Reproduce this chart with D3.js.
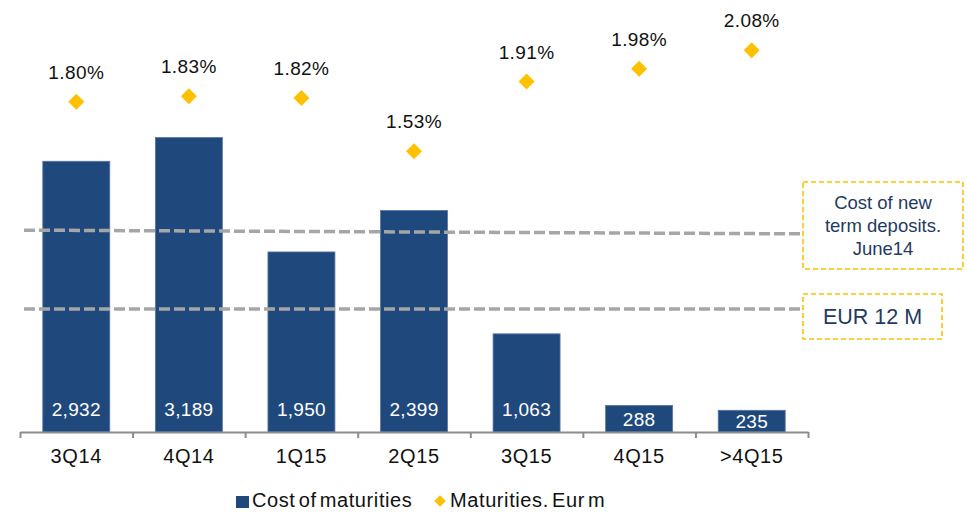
<!DOCTYPE html>
<html>
<head>
<meta charset="utf-8">
<script src="https://cdn.jsdelivr.net/npm/d3@7"></script>
<style>
  body { margin: 0; background: #fff; }
  svg text { font-family: "Liberation Sans", Arial, sans-serif; }
</style>
</head>
<body>
<div id="chart"></div>
<script>
var categories = ['3Q14', '4Q14', '1Q15', '2Q15', '3Q15', '4Q15', '>4Q15'];
var costOfMaturities = [2932, 3189, 1950, 2399, 1063, 288, 235];
var maturityRates = [1.80, 1.83, 1.82, 1.53, 1.91, 1.98, 2.08];
// reference levels on the % scale: [start, end]
var newDepositsCost = [1.10, 1.08];
var eur12m = [0.67, 0.67];
var legendLabels = ['Cost of maturities', 'Maturities. Eur m'];

var width = 967, height = 513;
var barColor = '#1F497D';
var diamondColor = '#FFC000';

var svg = d3.select('#chart').append('svg')
  .attr('width', width)
  .attr('height', height);

var x = d3.scaleBand()
  .domain(categories)
  .range([20, 808])
  .paddingInner(0.405)
  .paddingOuter(0.2025);

var y = d3.scaleLinear()
  .domain([0, 3000])
  .range([432, 155]);

var y2 = d3.scaleLinear()
  .domain([0, 2])
  .range([432, 65]);

// Bars
svg.selectAll('.bar').data(costOfMaturities)
  .join('rect')
  .attr('class', 'bar')
  .attr('x', (d, i) => x(categories[i]))
  .attr('y', (d) => y(d))
  .attr('width', x.bandwidth())
  .attr('height', (d) => y(0) - y(d))
  .attr('fill', barColor)
  .attr('stroke', '#5676a3')
  .attr('stroke-width', 0.8);

// Bar labels
svg.selectAll('.barLabel').data(costOfMaturities)
  .join('text')
  .attr('class', 'barLabel')
  .attr('x', (d, i) => x(categories[i]) + x.bandwidth() / 2)
  .attr('y', (d) => Math.max(409, (y(d) + y(0)) / 2) + 7)
  .attr('text-anchor', 'middle')
  .attr('fill', '#fff')
  .attr('font-size', 19)
  .attr('letter-spacing', 0.3)
  .text((d) => d3.format(',')(d));

// Reference dashed lines
var refLines = [newDepositsCost, eur12m];
svg.selectAll('.refLine').data(refLines)
  .join('line')
  .attr('class', 'refLine')
  .attr('x1', 24)
  .attr('x2', 800)
  .attr('y1', (d) => y2(d[0]))
  .attr('y2', (d) => y2(d[1]))
  .attr('stroke', '#A6A6A6')
  .attr('stroke-width', 3.5)
  .attr('stroke-dasharray', '11,4');

// X axis
var xi = d3.scaleLinear().domain([0, categories.length]).range([20, 808]);
var axis = svg.append('g')
  .attr('transform', 'translate(0,432)')
  .call(d3.axisBottom(xi).tickValues(d3.range(categories.length + 1)).tickFormat('').tickSize(6).tickSizeOuter(0));
axis.select('.domain').attr('stroke', '#8c8c8c').attr('stroke-width', 2);
axis.selectAll('.tick line').attr('stroke', '#8c8c8c').attr('stroke-width', 2);

svg.selectAll('.xLabel').data(categories)
  .join('text')
  .attr('class', 'xLabel')
  .attr('x', (d) => x(d) + x.bandwidth() / 2)
  .attr('y', 463)
  .attr('text-anchor', 'middle')
  .attr('font-size', 20)
  .attr('letter-spacing', 0.6)
  .attr('fill', '#111')
  .text((d) => d);

// Diamonds
var diamond = d3.symbol().type(d3.symbolSquare).size(128);
svg.selectAll('.pt').data(maturityRates)
  .join('path')
  .attr('class', 'pt')
  .attr('d', diamond)
  .attr('transform', (d, i) => 'translate(' + (x(categories[i]) + x.bandwidth() / 2) + ',' + y2(d) + ') rotate(45)')
  .attr('fill', diamondColor);

svg.selectAll('.ptLabel').data(maturityRates)
  .join('text')
  .attr('class', 'ptLabel')
  .attr('x', (d, i) => x(categories[i]) + x.bandwidth() / 2)
  .attr('y', (d) => y2(d) - 23)
  .attr('text-anchor', 'middle')
  .attr('font-size', 19)
  .attr('letter-spacing', 0.4)
  .attr('fill', '#111')
  .text((d) => d.toFixed(2) + '%');

// Annotation boxes
var boxes = [
  { x: 803, y: 182, w: 160, h: 87, lines: ['Cost of new', 'term deposits.', 'June14'], size: 18.5, top: 209, lh: 23 },
  { x: 803, y: 294, w: 139, h: 45, lines: ['EUR 12 M'], size: 21.5, top: 324, lh: 0 }
];
boxes.forEach((b) => {
  svg.append('rect')
    .attr('x', b.x).attr('y', b.y)
    .attr('width', b.w).attr('height', b.h)
    .attr('fill', '#fff')
    .attr('stroke', diamondColor)
    .attr('stroke-width', 1.6)
    .attr('stroke-dasharray', '5,3');
  svg.append('g').selectAll('text').data(b.lines)
    .join('text')
    .attr('x', b.x + b.w / 2)
    .attr('y', (d, i) => b.top + i * b.lh)
    .attr('text-anchor', 'middle')
    .attr('font-size', b.size)
    .attr('fill', '#1F3A63')
    .text((d) => d);
});

// Legend
var legend = svg.append('g').attr('transform', 'translate(0,507)');
legend.append('rect')
  .attr('x', 236).attr('y', -11)
  .attr('width', 13).attr('height', 12)
  .attr('fill', barColor);
legend.append('text')
  .attr('x', 252).attr('y', 0)
  .attr('font-size', 20)
  .attr('letter-spacing', 0.6)
  .attr('word-spacing', -3)
  .attr('fill', '#111')
  .text(legendLabels[0]);
legend.append('path')
  .attr('d', d3.symbol().type(d3.symbolSquare).size(64))
  .attr('transform', 'translate(440,-6) rotate(45)')
  .attr('fill', diamondColor);
legend.append('text')
  .attr('x', 450).attr('y', 0)
  .attr('font-size', 20)
  .attr('letter-spacing', 0.6)
  .attr('word-spacing', -3)
  .attr('fill', '#111')
  .text(legendLabels[1]);
</script>
</body>
</html>
